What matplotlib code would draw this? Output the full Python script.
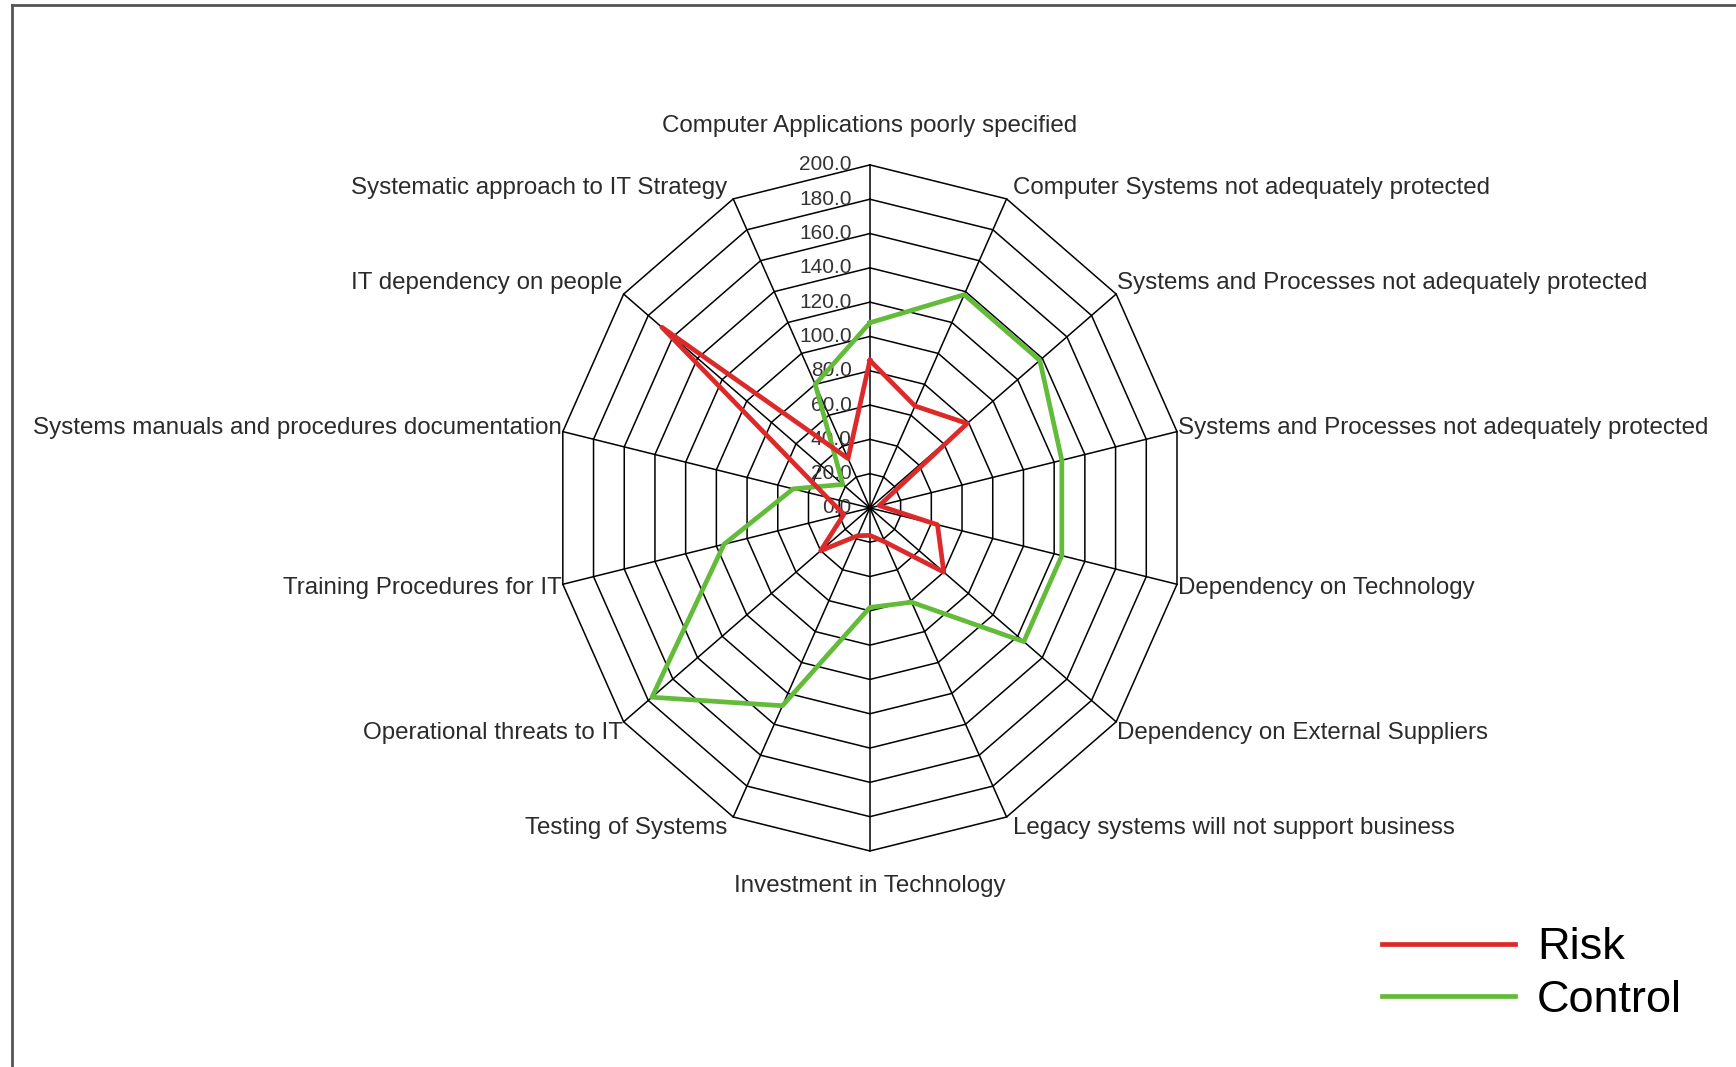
import numpy as np
import matplotlib.pyplot as plt
from matplotlib.lines import Line2D

# categories clockwise from the top
categories = [
    "Computer Applications poorly specified",
    "Computer Systems not adequately protected",
    "Systems and Processes not adequately protected",
    "Systems and Processes not adequately protected",
    "Dependency on Technology",
    "Dependency on External Suppliers",
    "Legacy systems will not support business",
    "Investment in Technology",
    "Testing of Systems",
    "Operational threats to IT",
    "Training Procedures for IT",
    "Systems manuals and procedures documentation",
    "IT dependency on people",
    "Systematic approach to IT Strategy",
]
risk = [86, 66, 79, 6, 44, 60, 22, 16, 18, 40, 17, 28, 169, 32]
control = [108, 138, 138, 125, 125, 125, 61, 58, 128, 177, 95, 50, 22, 80]
ticks = np.arange(0, 201, 20)
tick_labels = [f"{t:.1f}" for t in ticks]

plt.rcParams['font.family'] = ['Liberation Sans', 'DejaVu Sans']

n = len(categories)
theta = np.arange(n) * 2 * np.pi / n
sx = np.sin(theta)
sy = np.cos(theta)
sxc = np.append(sx, sx[0])
syc = np.append(sy, sy[0])

fig = plt.figure(figsize=(17.36, 10.67), dpi=100)
# axes box chosen so the web is slightly taller than wide, like the original
ax = fig.add_axes([0.2743, 0.1221, 0.4536, 0.8037])
ax.set_xlim(-250, 250)
ax.set_ylim(-250, 250)
ax.axis('off')

# polygon grid
for t in ticks[1:]:
    ax.plot(t * sxc, t * syc, color='black', lw=1.1, zorder=1)
for i in range(n):
    ax.plot([0, 200 * sx[i]], [0, 200 * sy[i]], color='black', lw=1.1, zorder=1)

# scale labels along the top spoke
for t, lab in zip(ticks, tick_labels):
    ax.text(-11.5, t, lab, ha='right', va='center', fontsize=15, color='#333333', zorder=2)

# category labels
for i, lab in enumerate(categories):
    x, y = 200 * sx[i], 200 * sy[i]
    if i == 0:
        off, ha = (0, 39), 'center'
    elif i == n // 2:
        off, ha = (0, -35), 'center'
    else:
        s = np.sign(sx[i])
        dx = 6 * s if abs(sx[i]) < 0.5 else 1 * s
        dy = np.clip(18 * sy[i], -11, 11)
        off = (dx, dy)
        ha = 'left' if s > 0 else 'right'
    ax.annotate(lab, (x, y), xytext=off, textcoords='offset pixels',
                ha=ha, va='center', fontsize=17.4, color='#2b2b2b',
                annotation_clip=False)

# data
rc = np.append(risk, risk[0])
cc = np.append(control, control[0])
h_ctrl, = ax.plot(cc * sxc, cc * syc, color='#63bb3a', lw=3.4, zorder=3, label='Control')
h_risk, = ax.plot(rc * sxc, rc * syc, color='#dc2a2a', lw=3.4, zorder=4, label='Risk')

fig.legend(handles=[h_risk, h_ctrl], loc='center left', bbox_to_anchor=(0.7828, 0.0871),
           frameon=False, handlelength=2.95, handletextpad=0.5,
           labelspacing=0.25, borderpad=0,
           prop={'family': ['Liberation Sans', 'DejaVu Sans'], 'size': 32.5})

# partial frame (top and left edges)
fig.add_artist(Line2D([12 / 1736, 1], [1 - 5 / 1067] * 2, transform=fig.transFigure,
                      color='#555555', lw=2))
fig.add_artist(Line2D([12 / 1736] * 2, [0, 1 - 5 / 1067], transform=fig.transFigure,
                      color='#555555', lw=2))

fig.savefig('out.png', dpi=100)
